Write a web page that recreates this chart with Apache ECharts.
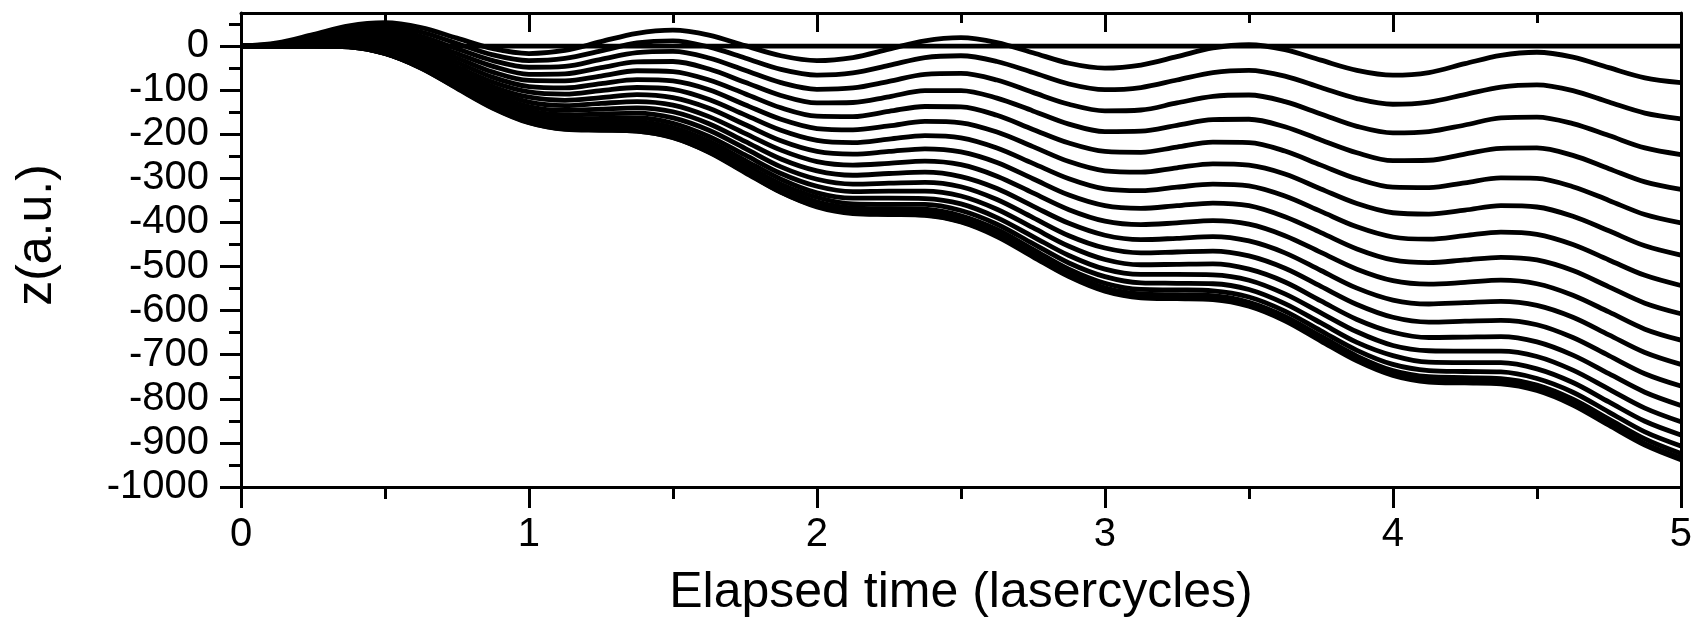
<!DOCTYPE html>
<html>
<head>
<meta charset="utf-8">
<script src="https://cdn.jsdelivr.net/npm/echarts@6/dist/echarts.min.js"></script>
<style>
html,body{margin:0;padding:0;background:#ffffff;}
#chart{width:1695px;height:627px;}
</style>
</head>
<body>
<div id="chart"></div>
<script>
// Elapsed time (laser cycles) sample positions
const t = [0, 0.125, 0.25, 0.375, 0.5, 0.625, 0.75, 0.875,
           1, 1.125, 1.25, 1.375, 1.5, 1.625, 1.75, 1.875,
           2, 2.125, 2.25, 2.375, 2.5, 2.625, 2.75, 2.875,
           3, 3.125, 3.25, 3.375, 3.5, 3.625, 3.75, 3.875,
           4, 4.125, 4.25, 4.375, 4.5, 4.625, 4.75, 4.875, 5];

// z(a.u.) of each trajectory, read at the times above
const z01 = [0, 7, 26, 46, 53, 42, 18, -6, -17, -10, 10, 29, 36, 25, 1, -22, -33, -26, -7, 12, 19, 8, -15, -39, -50, -43, -24, -4, 3, -8, -32, -55, -66, -60, -40, -21, -14, -25, -49, -72, -83];
const z02 = [0, 5, 23, 40, 45, 32, 6, -20, -33, -28, -11, 7, 12, -2, -27, -53, -66, -61, -44, -26, -22, -35, -60, -86, -99, -94, -77, -60, -55, -68, -94, -119, -132, -127, -110, -93, -88, -101, -127, -152, -165];
const z03 = [0, 4, 19, 34, 37, 22, -6, -33, -48, -46, -30, -15, -12, -27, -55, -83, -98, -95, -80, -64, -62, -77, -105, -132, -147, -145, -129, -114, -111, -126, -154, -182, -197, -194, -179, -163, -161, -176, -203, -231, -246];
const z04 = [0, 3, 16, 29, 30, 13, -17, -46, -64, -63, -49, -36, -35, -52, -82, -112, -129, -128, -115, -101, -101, -118, -147, -177, -194, -193, -180, -167, -166, -183, -213, -242, -260, -259, -245, -232, -231, -248, -278, -308, -325];
const z05 = [0, 2, 13, 24, 23, 4, -27, -59, -78, -79, -68, -56, -58, -77, -108, -140, -159, -160, -148, -137, -138, -157, -189, -220, -239, -241, -229, -218, -219, -238, -270, -301, -320, -321, -310, -299, -300, -319, -350, -382, -401];
const z06 = [0, 1, 10, 20, 17, -4, -37, -71, -92, -95, -85, -76, -79, -99, -133, -166, -187, -190, -181, -171, -174, -195, -228, -262, -283, -286, -276, -267, -270, -290, -324, -357, -378, -381, -372, -362, -365, -386, -419, -453, -474];
const z07 = [0, 0, 8, 16, 11, -11, -47, -82, -104, -109, -101, -94, -98, -121, -156, -191, -214, -219, -211, -203, -208, -231, -266, -301, -324, -328, -320, -313, -317, -340, -375, -410, -433, -438, -430, -422, -427, -450, -485, -520, -543];
const z08 = [0, 0, 6, 12, 6, -18, -55, -92, -116, -123, -117, -110, -117, -141, -178, -215, -239, -245, -239, -233, -240, -264, -301, -338, -362, -368, -362, -356, -362, -387, -423, -460, -485, -491, -485, -479, -485, -509, -546, -583, -607];
const z09 = [0, 0, 5, 9, 1, -25, -63, -101, -127, -135, -130, -126, -134, -160, -198, -236, -262, -270, -266, -261, -269, -295, -333, -371, -397, -405, -401, -396, -404, -430, -468, -506, -532, -540, -536, -531, -539, -565, -603, -642, -667];
const z10 = [0, 0, 3, 6, -3, -30, -70, -110, -137, -146, -143, -140, -149, -176, -216, -256, -283, -293, -289, -286, -296, -323, -363, -402, -429, -439, -436, -432, -442, -469, -509, -549, -576, -585, -582, -579, -588, -615, -655, -695, -722];
const z11 = [0, 0, 2, 4, -6, -35, -76, -117, -146, -156, -154, -152, -163, -191, -232, -274, -302, -313, -311, -309, -319, -348, -389, -430, -458, -469, -467, -465, -476, -504, -545, -586, -615, -626, -624, -622, -632, -661, -702, -743, -771];
const z12 = [0, 0, 1, 2, -10, -39, -81, -123, -153, -165, -164, -163, -175, -205, -247, -289, -318, -330, -329, -329, -340, -370, -412, -454, -484, -496, -495, -494, -506, -535, -578, -620, -649, -661, -660, -659, -671, -701, -743, -785, -815];
const z13 = [0, 0, 1, 1, -12, -43, -86, -129, -159, -172, -172, -172, -185, -216, -259, -302, -333, -345, -345, -346, -358, -389, -432, -475, -506, -518, -518, -519, -531, -562, -605, -648, -679, -691, -692, -692, -704, -735, -778, -821, -852];
const z14 = [0, 0, 0, -1, -14, -45, -89, -133, -164, -178, -179, -180, -194, -225, -269, -313, -343, -358, -359, -359, -373, -404, -448, -492, -523, -537, -538, -539, -552, -584, -628, -672, -702, -717, -718, -718, -732, -763, -807, -851, -882];
const z15 = [0, 0, 0, -1, -16, -48, -92, -137, -169, -183, -184, -186, -200, -232, -277, -321, -353, -367, -369, -370, -385, -416, -461, -506, -538, -552, -553, -555, -569, -601, -646, -690, -722, -736, -738, -739, -754, -785, -830, -875, -907];
const z16 = [0, 0, 0, -2, -17, -49, -94, -139, -171, -186, -188, -190, -205, -237, -282, -327, -360, -374, -376, -378, -393, -425, -470, -515, -548, -562, -564, -566, -581, -613, -658, -703, -736, -750, -752, -754, -769, -801, -846, -891, -924];
const z17 = [0, 0, 0, -2, -17, -50, -95, -140, -173, -188, -190, -193, -207, -240, -285, -331, -363, -378, -381, -383, -398, -430, -476, -521, -554, -569, -571, -573, -588, -621, -666, -711, -744, -759, -761, -763, -778, -811, -856, -902, -934];
const z18 = [0, 0, 0, -2, -17, -50, -96, -141, -174, -189, -191, -193, -208, -241, -287, -332, -365, -380, -382, -384, -399, -432, -478, -523, -556, -571, -573, -575, -590, -623, -669, -714, -747, -762, -764, -766, -781, -814, -860, -905, -938];

// horizontal reference trajectory at z = 0
const flatT = [0, 5];
const flatZ = [0, 0];

// axis ticks
const xTicks = [0, 1, 2, 3, 4, 5];
const yTicks = [-1000, -900, -800, -700, -600, -500, -400, -300, -200, -100, 0];
const yMinorTicks = [-950, -850, -750, -650, -550, -450, -350, -250, -150, -50, 50];

const curves = [z01, z02, z03, z04, z05, z06, z07, z08, z09, z10, z11, z12, z13, z14, z15, z16, z17, z18];

const FONT = 'Liberation Sans, Arial, Helvetica, sans-serif';
const BLACK = '#000000';
const LW = 4.8;

const series = curves.map((arr, k) => ({
  type: 'line',
  name: 'traj' + (k + 1),
  xAxisIndex: 0,
  yAxisIndex: 0,
  data: t.map((x, i) => [x, arr[i]]),
  showSymbol: false,
  symbol: 'none',
  smooth: 0.33,
  lineStyle: { color: BLACK, width: LW },
  silent: true,
  animation: false
}));
series.push({
  type: 'line',
  name: 'flat',
  xAxisIndex: 0,
  yAxisIndex: 0,
  data: flatT.map((x, i) => [x, flatZ[i]]),
  showSymbol: false,
  symbol: 'none',
  lineStyle: { color: BLACK, width: LW },
  silent: true,
  animation: false
});

const chart = echarts.init(document.getElementById('chart'), null, { renderer: 'canvas' });
chart.setOption({
  backgroundColor: '#ffffff',
  animation: false,
  grid: { left: 241, right: 14, top: 13, bottom: 140, containLabel: false },
  xAxis: [
    {
      type: 'value', position: 'bottom', min: 0, max: 5, interval: 1,
      axisLine: { show: true, onZero: false, lineStyle: { color: BLACK, width: 3 } },
      axisTick: { show: true, length: 21, lineStyle: { color: BLACK, width: 3 } },
      minorTick: { show: true, splitNumber: 2, length: 12, lineStyle: { color: BLACK, width: 3 } },
      axisLabel: { show: true, color: BLACK, fontSize: 40, fontFamily: FONT, margin: 28,
                   customValues: xTicks, formatter: v => String(v) },
      splitLine: { show: false }, minorSplitLine: { show: false }
    },
    {
      type: 'value', position: 'top', min: 0, max: 5, interval: 1,
      axisLine: { show: true, onZero: false, lineStyle: { color: BLACK, width: 3 } },
      axisTick: { show: true, inside: true, length: 19, lineStyle: { color: BLACK, width: 3 } },
      minorTick: { show: true, splitNumber: 2, length: 10, lineStyle: { color: BLACK, width: 3 } },
      axisLabel: { show: false },
      splitLine: { show: false }
    }
  ],
  yAxis: [
    {
      type: 'value', position: 'left', min: -1000, max: 75, interval: 100,
      axisLine: { show: true, onZero: false, lineStyle: { color: BLACK, width: 3 } },
      axisTick: { show: true, length: 21, customValues: yTicks, lineStyle: { color: BLACK, width: 3 } },
      axisLabel: { show: true, color: BLACK, fontSize: 40, fontFamily: FONT, margin: 32,
                   customValues: yTicks, formatter: v => String(v) },
      splitLine: { show: false }
    },
    {
      type: 'value', position: 'left', min: -1000, max: 75, interval: 100,
      axisLine: { show: false, onZero: false },
      axisTick: { show: true, length: 12, customValues: yMinorTicks, lineStyle: { color: BLACK, width: 3 } },
      axisLabel: { show: false },
      splitLine: { show: false }
    },
    {
      type: 'value', position: 'right', min: -1000, max: 75, interval: 100,
      axisLine: { show: true, onZero: false, lineStyle: { color: BLACK, width: 3 } },
      axisTick: { show: false },
      axisLabel: { show: false },
      splitLine: { show: false }
    }
  ],
  graphic: [
    {
      type: 'text', x: 961, y: 593,
      style: { text: 'Elapsed time (lasercycles)', fill: BLACK, font: '50px ' + FONT,
               textAlign: 'center', textVerticalAlign: 'middle' }
    },
    {
      type: 'text', x: 37, y: 235, rotation: Math.PI / 2,
      style: { text: 'z(a.u.)', fill: BLACK, font: '50px ' + FONT,
               textAlign: 'center', textVerticalAlign: 'middle' }
    }
  ],
  series: series
});
</script>
</body>
</html>
